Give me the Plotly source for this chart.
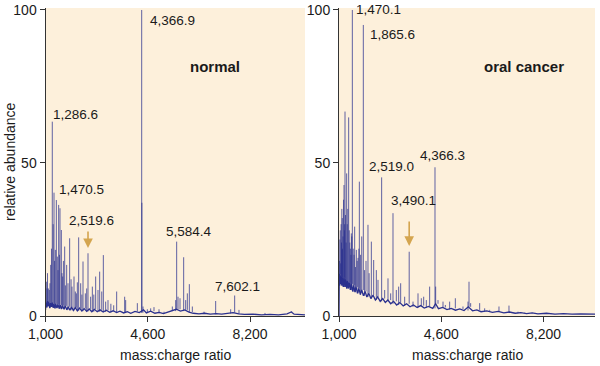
import plotly.graph_objects as go

# ---------------- data ----------------
# normal: peak positions (m/z) and relative abundance
normal_peak_mz = [1042, 1053, 1070, 1100, 1134, 1158, 1183, 1210, 1239, 1270, 1299, 1320,
                  1346, 1381, 1416, 1440, 1463, 1490, 1510, 1557, 1580, 1604, 1630, 1675,
                  1700, 1745, 1792, 1850, 1900, 1933, 2003, 2050, 2085, 2120, 2167, 2238,
                  2280, 2320, 2402, 2450, 2496, 2589, 2648, 2700, 2765, 2847, 2906, 2980,
                  3035, 3117, 3199, 3300, 3400, 3504, 3786, 3821, 4232, 4385, 4392, 4431,
                  4584, 4701, 4818, 4994, 5170, 5463, 5581, 5616, 5663, 5733, 5862, 5933,
                  5991, 6062, 6167, 6578, 6988, 7516, 7657, 7809, 8724, 9664]
normal_peak_ab = [11.2, 9.0, 14.0, 9.0, 8.5, 10.7, 16.7, 22.0, 63.5, 30.0, 40.3, 18.0,
                  21.6, 37.9, 19.4, 15.0, 36.3, 20.0, 35.2, 28.1, 14.0, 12.9, 18.0, 22.7,
                  10.0, 16.7, 10.7, 25.4, 12.0, 9.6, 12.9, 8.0, 7.4, 11.0, 25.7, 10.7,
                  7.0, 17.8, 7.4, 9.0, 20.5, 6.3, 9.6, 7.0, 12.9, 8.5, 14.5, 8.0,
                  19.9, 4.7, 5.2, 4.0, 3.5, 8.0, 6.3, 5.2, 4.2, 100.0, 37.0, 3.1,
                  2.2, 2.5, 2.9, 2.2, 1.4, 3.1, 5.2, 24.3, 6.3, 5.8, 19.2, 5.2,
                  7.4, 10.4, 3.1, 1.4, 4.9, 2.2, 6.7, 2.0, 1.0, 1.5]
normal_base_mz = [1000, 1020, 1045, 1070, 1095, 1120, 1150, 1180, 1210, 1240, 1270, 1300,
                  1330, 1360, 1400, 1440, 1480, 1520, 1560, 1600, 1650, 1700, 1750, 1800,
                  1860, 1920, 1980, 2050, 2120, 2200, 2280, 2360, 2450, 2540, 2630, 2720,
                  2820, 2920, 3030, 3140, 3260, 3380, 3500, 3620, 3750, 3880, 4000, 4150,
                  4300, 4450, 4550, 4700, 4850, 5000, 5150, 5300, 5450, 5600, 5750, 5900,
                  6050, 6200, 6400, 6600, 6800, 7000, 7200, 7400, 7600, 7800, 8000, 8300,
                  8600, 8900, 9200, 9500, 9650, 9750, 10000, 10130]
normal_base_ab = [2.0, 4.5, 2.8, 5.0, 3.2, 4.6, 2.6, 4.2, 3.0, 4.4, 2.7, 3.9,
                  2.5, 4.0, 2.6, 3.8, 2.4, 3.5, 2.3, 3.4, 2.2, 3.3, 2.0, 3.0,
                  1.9, 2.9, 1.8, 2.7, 1.7, 2.6, 1.6, 2.4, 1.5, 2.3, 1.4, 2.2,
                  1.4, 2.0, 1.3, 1.9, 1.2, 1.7, 1.1, 1.6, 1.0, 1.4, 0.9, 1.5,
                  1.1, 2.0, 1.0, 1.6, 0.9, 1.2, 0.8, 1.3, 1.6, 2.2, 1.6, 2.0,
                  1.3, 0.9, 0.7, 0.9, 0.6, 0.8, 0.6, 0.8, 1.1, 0.7, 0.5, 0.6,
                  0.4, 0.5, 0.4, 0.7, 1.3, 0.6, 0.4, 0.4]

# oral cancer
cancer_peak_mz = [1015, 1030, 1045, 1059, 1075, 1088, 1100, 1106, 1115, 1125, 1140, 1160,
                  1176, 1190, 1200, 1211, 1230, 1250, 1270, 1290, 1310, 1340, 1360, 1380,
                  1400, 1420, 1434, 1450, 1469, 1500, 1530, 1551, 1580, 1610, 1640, 1670,
                  1700, 1716, 1760, 1800, 1856, 1900, 1950, 2020, 2060, 2138, 2220, 2314,
                  2372, 2501, 2607, 2724, 2818, 2900, 3017, 3100, 3170, 3311, 3470, 3604,
                  3780, 3897, 3980, 4073, 4190, 4378, 4402, 4484, 4660, 4742, 4894, 5094,
                  5363, 5540, 5575, 5633, 5950, 6126, 6302, 6630, 6982, 7299, 7533]
cancer_peak_ab = [18, 25, 28, 17.2, 30, 24, 35, 21.6, 32, 22, 26, 38,
                  42.8, 28, 30, 66.8, 33, 24, 46.6, 30, 35, 64.9, 28, 24,
                  22, 20, 27, 26, 100.0, 22, 20, 29.2, 16, 21.6, 18, 19,
                  22, 43.9, 20, 26, 95.1, 15, 18, 29.8, 14, 24.3, 18.3, 15,
                  11.8, 45.3, 8.5, 12.3, 7.4, 33.6, 8.5, 9.6, 10.7, 6.3, 21.0, 4.7,
                  7.4, 5.8, 6.3, 5.2, 9.6, 48.6, 9.6, 5.2, 4.7, 3.6, 4.7, 5.8,
                  3.1, 4.7, 11.2, 4.2, 4.2, 2.5, 2.0, 3.1, 3.4, 1.4, 1.2]
cancer_base_mz = [1000, 1010, 1025, 1040, 1060, 1080, 1100, 1120, 1150, 1180, 1210, 1240,
                  1270, 1300, 1330, 1360, 1400, 1440, 1480, 1520, 1560, 1600, 1650, 1700,
                  1750, 1800, 1860, 1920, 1980, 2050, 2120, 2200, 2280, 2360, 2450, 2540,
                  2630, 2720, 2820, 2920, 3030, 3140, 3260, 3380, 3500, 3620, 3750, 3880,
                  4000, 4150, 4300, 4400, 4500, 4650, 4800, 4950, 5100, 5250, 5400, 5550,
                  5700, 5850, 6000, 6200, 6400, 6600, 6800, 7000, 7200, 7400, 7600, 7800,
                  8000, 8300, 8600, 8900, 9200, 9500, 9800, 10010]
cancer_base_ab = [0.0, 14.0, 10.0, 13.5, 10.5, 13.0, 10.0, 12.5, 9.5, 12.5, 9.5, 12.0,
                  9.0, 11.5, 9.0, 11.0, 8.5, 10.5, 8.0, 10.0, 7.8, 9.5, 7.4, 9.0,
                  7.0, 8.5, 6.6, 8.0, 6.2, 7.4, 5.7, 6.8, 5.2, 6.2, 4.8, 5.7,
                  4.4, 5.2, 4.0, 4.8, 3.6, 4.4, 3.3, 4.0, 3.0, 3.6, 2.8, 3.4,
                  2.6, 3.1, 2.5, 4.0, 2.4, 2.8, 2.1, 2.5, 1.9, 2.3, 1.8, 3.0,
                  1.7, 2.0, 1.4, 1.7, 1.2, 1.5, 1.0, 1.3, 0.9, 1.1, 0.8, 1.0,
                  0.7, 0.9, 0.6, 0.8, 0.6, 0.7, 0.5, 0.6]

# labels: (text, m/z, abundance)
normal_labels = [("4,366.9", 4618, 96.5), ("1,286.6", 1183, 65.9), ("1,470.5", 1415, 41.5),
                 ("2,519.6", 1746, 31.1), ("5,584.4", 5170, 27.5), ("7,602.1", 6905, 9.8)]
cancer_labels = [("1,470.1", 1538, 100.0), ("1,865.6", 2031, 92.1), ("2,519.0", 1975, 48.8),
                 ("4,366.3", 3791, 52.4), ("3,490.1", 2749, 37.6)]
# arrows: (m/z, tail abundance, head abundance)
normal_arrow = (2496, 28.1, 22.2)
cancer_arrow = (3470, 31.4, 22.9)

x_tickvals = [1000, 4600, 8200]
x_ticktext = ["1,000", "4,600", "8,200"]
y_tickvals = [0, 50, 100]
y_ticktext = ["0", "50", "100"]
panel_titles = ["normal", "oral cancer"]

# ---------------- styles ----------------
LINE = "#2b318f"
STICK = "rgba(43,49,143,0.75)"
BG = "#fdf0db"
AXIS = "#333333"
ARROW = "#d4a54f"
FONT = "Liberation Sans, Arial, sans-serif"
TXT = "#1a1a1a"


def stick_trace(peak_mz, peak_ab, base_mz, base_ab, xa, ya):
    xs, ys = [], []
    # vertical peaks rising from the last baseline reading before them
    for m, a in zip(peak_mz, peak_ab):
        level = base_ab[0]
        for bm, ba in zip(base_mz, base_ab):
            if bm <= m:
                level = ba
        xs += [m, m, None]
        ys += [level, a, None]
    sticks = go.Scatter(x=xs, y=ys, mode="lines", line=dict(color=STICK, width=1),
                        xaxis=xa, yaxis=ya, hoverinfo="skip", showlegend=False)
    base = go.Scatter(x=base_mz, y=base_ab, mode="lines", line=dict(color=LINE, width=1.3),
                      xaxis=xa, yaxis=ya, hoverinfo="skip", showlegend=False)
    return [base, sticks]


fig = go.Figure()
for t in stick_trace(normal_peak_mz, normal_peak_ab, normal_base_mz, normal_base_ab, "x", "y"):
    fig.add_trace(t)
for t in stick_trace(cancer_peak_mz, cancer_peak_ab, cancer_base_mz, cancer_base_ab, "x2", "y2"):
    fig.add_trace(t)

W, H = 600, 366
ydom = [(H - 316) / H, (H - 8) / H]

axis_common = dict(showgrid=False, zeroline=False, showline=True, linecolor=AXIS, linewidth=1,
                   ticks="outside", ticklen=5, tickwidth=1, tickcolor=AXIS, automargin=False,
                   tickfont=dict(family=FONT, size=14, color=TXT))

fig.update_layout(
    width=W, height=H, autosize=False,
    margin=dict(l=0, r=0, t=0, b=0, pad=0),
    paper_bgcolor="white", plot_bgcolor=BG,
    xaxis=dict(domain=[45.5 / W, 305 / W], range=[1000, 10132], anchor="y",
               tickvals=x_tickvals, ticktext=x_ticktext, **axis_common),
    yaxis=dict(domain=ydom, range=[0, 100.65], anchor="x",
               tickvals=y_tickvals, ticktext=y_ticktext, **axis_common),
    xaxis2=dict(domain=[339 / W, 595 / W], range=[1000, 10009], anchor="y2",
                tickvals=x_tickvals, ticktext=x_ticktext, **axis_common),
    yaxis2=dict(domain=ydom, range=[0, 100.65], anchor="x2",
                tickvals=y_tickvals, ticktext=y_ticktext, **axis_common),
)

ann = []
for labels, xr, yr in [(normal_labels, "x", "y"), (cancer_labels, "x2", "y2")]:
    for txt, m, a in labels:
        ann.append(dict(text=txt, x=m, y=a, xref=xr, yref=yr, xanchor="left", yanchor="middle",
                        showarrow=False, font=dict(family=FONT, size=13.5, color=TXT)))
for title, xr, yr, m in [(panel_titles[0], "x", "y", 6015), (panel_titles[1], "x2", "y2", 6022)]:
    ann.append(dict(text="<b>%s</b>" % title, x=m, y=81.5, xref=xr, yref=yr, xanchor="left",
                    yanchor="middle", showarrow=False, font=dict(family=FONT, size=15, color=TXT)))
for (m, a0, a1), xr, yr in [(normal_arrow, "x", "y"), (cancer_arrow, "x2", "y2")]:
    ann.append(dict(text="", x=m, y=a1, ax=m, ay=a0, xref=xr, yref=yr, axref=xr, ayref=yr,
                    showarrow=True, arrowhead=2, arrowsize=1.2, arrowwidth=1.6,
                    arrowcolor=ARROW, standoff=0, startstandoff=0))
for xr in ["x", "x2"]:
    ann.append(dict(text="mass:charge ratio", x=0.5, y=1 - 355 / H, xref=xr + " domain",
                    yref="paper", xanchor="center", yanchor="middle", showarrow=False,
                    font=dict(family=FONT, size=14, color=TXT)))
ann.append(dict(text="relative abundance", x=10 / W, y=0.5, xref="paper", yref="y domain",
                xanchor="center", yanchor="middle", textangle=-90, showarrow=False,
                font=dict(family=FONT, size=14, color=TXT)))
fig.update_layout(annotations=ann)

fig.write_html("out.html", config={"displayModeBar": False},
               post_script="document.body.style.margin='0';")
